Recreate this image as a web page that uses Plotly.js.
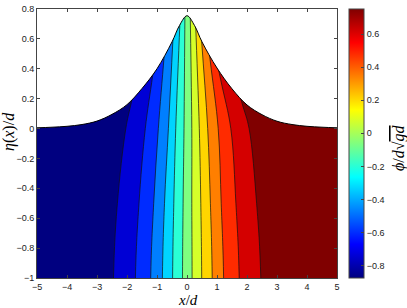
<!DOCTYPE html>
<html><head><meta charset="utf-8">
<script src="https://cdn.plot.ly/plotly-3.0.1.min.js"></script>
<style>html,body{margin:0;padding:0;background:#fff}#chart{width:407px;height:308px}</style>
</head><body><div id="chart"></div>
<script>
// free-surface elevation eta(x)/d
const surfX   = [-5, -4.5, -4, -3.5, -3, -2.5, -2, -1.5, -1, -0.5, -0.25, 0, 0.25, 0.5, 1, 1.5, 2, 2.5, 3, 3.5, 4, 4.5, 5];
const surfEta = [0.005, 0.009, 0.015, 0.027, 0.05, 0.095, 0.16, 0.268, 0.40, 0.58, 0.69, 0.755, 0.69, 0.58, 0.405, 0.266, 0.158, 0.093, 0.049, 0.027, 0.015, 0.009, 0.005];

// contour boundaries of phi: x position at y = -1, -0.5, 0 and where each meets the surface
const rowY        = [-1, -0.5, 0];
const contXBottom = [-2.45, -1.72, -1.21, -0.82, -0.48, -0.15, 0.17, 0.49, 0.84, 1.22, 1.74, 2.46];
const contXMid    = [-2.32, -1.60, -1.11, -0.75, -0.44, -0.13, 0.16, 0.46, 0.78, 1.14, 1.63, 2.32];
const contXZero   = [-2.04, -1.39, -0.955, -0.62, -0.375, -0.10, 0.16, 0.41, 0.69, 1.04, 1.46, 2.07];
const contXSurf   = [-1.84, -1.14, -0.76, -0.47, -0.24, -0.07, 0.11, 0.29, 0.49, 0.77, 1.12, 1.82];
const contYSurf   = [0.19, 0.36, 0.49, 0.59, 0.69, 0.75, 0.745, 0.69, 0.58, 0.46, 0.33, 0.18];

// phi value used for the colour of each filled band (left to right)
const bandPhi = [-0.874, -0.738, -0.603, -0.468, -0.333, -0.197, -0.062, 0.074, 0.209, 0.345, 0.480, 0.616, 0.751];
const phiMin = -0.874, phiMax = 0.751;

const xTicks  = [-5, -4, -3, -2, -1, 0, 1, 2, 3, 4, 5];
const yTicks  = [-1, -0.8, -0.6, -0.4, -0.2, 0, 0.2, 0.4, 0.6, 0.8];
const cbTicks = [-0.8, -0.6, -0.4, -0.2, 0, 0.2, 0.4, 0.6];

// Matlab-like jet colour map
const jet = [[0,[0,0,128]],[0.125,[0,0,255]],[0.375,[0,255,255]],[0.625,[255,255,0]],[0.875,[255,0,0]],[1,[128,0,0]]];
const jetScale = jet.map(s => [s[0], 'rgb(' + s[1].join(',') + ')']);
function jetColor(v) {
  const t = Math.min(1, Math.max(0, (v - phiMin) / (phiMax - phiMin)));
  for (let i = 1; i < jet.length; i++) {
    if (t <= jet[i][0] + 1e-9) {
      const a = jet[i-1], b = jet[i], f = (t - a[0]) / (b[0] - a[0]);
      return 'rgb(' + a[1].map((c, j) => Math.round(c + (b[1][j] - c) * f)).join(',') + ')';
    }
  }
  return 'rgb(128,0,0)';
}

const FAR = 3, XR = 6;
const traces = [];
// band 0: whole field
traces.push({x: [-XR, -XR, XR, XR], y: [-FAR, FAR, FAR, -FAR], mode: 'lines', fill: 'toself',
  fillcolor: jetColor(bandPhi[0]), line: {width: 0}, hoverinfo: 'skip'});
// bands 1..12: region right of each contour boundary
for (let i = 0; i < contXBottom.length; i++) {
  const xs = contXSurf[i], ys = contYSurf[i], x0 = contXZero[i];
  const slope = (xs - x0) / ys;
  const ye = 1.2, xe = xs + slope * (ye - ys);
  traces.push({
    x: [contXBottom[i], contXBottom[i], contXMid[i], contXZero[i], xs, xe, xe, XR, XR],
    y: [-FAR, rowY[0], rowY[1], rowY[2], ys, ye, FAR, FAR, -FAR],
    mode: 'lines', fill: 'toself', fillcolor: jetColor(bandPhi[i+1]),
    line: {shape: 'spline', smoothing: 1, color: '#111', width: 0.7}, hoverinfo: 'skip'
  });
}
// white mask above the free surface
traces.push({x: surfX, y: surfEta, mode: 'lines', line: {width: 0, shape: 'spline'}, hoverinfo: 'skip'});
traces.push({x: [surfX[0], surfX[surfX.length-1]], y: [FAR, FAR], mode: 'lines', fill: 'tonexty',
  fillcolor: '#ffffff', line: {width: 0}, hoverinfo: 'skip'});
// free surface line
traces.push({x: surfX, y: surfEta, mode: 'lines', line: {color: '#000', width: 1, shape: 'spline'}, hoverinfo: 'skip'});
// colour bar carrier
traces.push({x: [0], y: [-5], mode: 'markers', hoverinfo: 'skip',
  marker: {color: [phiMin], cmin: phiMin, cmax: phiMax, colorscale: jetScale, showscale: true, opacity: 0,
    colorbar: {x: 1.04, xanchor: 'left', xpad: 0, y: 0.5, yanchor: 'middle', ypad: 0, len: 1, lenmode: 'fraction',
      thickness: 15, outlinewidth: 1, outlinecolor: '#444', tickvals: cbTicks, ticks: 'inside', ticklen: 3,
      tickcolor: '#444', tickfont: {family: 'Liberation Sans, Arial, sans-serif', size: 9, color: '#222'}}}});

const tickFont = {family: 'Liberation Sans, Arial, sans-serif', size: 9, color: '#222'};
const layout = {
  width: 407, height: 308, showlegend: false,
  margin: {l: 37, r: 70, t: 9, b: 30},
  paper_bgcolor: '#fff', plot_bgcolor: '#fff',
  xaxis: {range: [-5, 5], tickvals: xTicks, ticks: 'inside', ticklen: 3, tickcolor: '#444', mirror: 'ticks',
    showline: true, linecolor: '#444', linewidth: 1, showgrid: false, zeroline: false, tickfont: tickFont},
  yaxis: {range: [-1, 0.8], tickvals: yTicks, ticks: 'inside', ticklen: 3, tickcolor: '#444', mirror: 'ticks',
    showline: true, linecolor: '#444', linewidth: 1, showgrid: false, zeroline: false, tickfont: tickFont},
  annotations: [
    {text: '<i>x</i>/<i>d</i>', xref: 'paper', yref: 'paper', x: (188-37)/300, y: (278-300)/269,
      xanchor: 'center', yanchor: 'middle', showarrow: false,
      font: {family: 'Liberation Serif, serif', size: 15, color: '#000'}},
    {text: '<i>η</i>(<i>x</i>)/<i>d</i>', xref: 'paper', yref: 'paper', x: (9-37)/300, y: (278-132)/269,
      xanchor: 'center', yanchor: 'middle', showarrow: false, textangle: -90,
      font: {family: 'Liberation Serif, serif', size: 16, color: '#000'}},
    {text: '<i>ϕ</i>/<i>d</i>√<span style="text-decoration:overline"><i>gd</i></span>', xref: 'paper', yref: 'paper',
      x: (399-37)/300, y: (278-148)/269, xanchor: 'center', yanchor: 'middle', showarrow: false, textangle: -90,
      font: {family: 'Liberation Serif, serif', size: 16, color: '#000'}}
  ]
};
Plotly.newPlot('chart', traces, layout, {staticPlot: true, displayModeBar: false});
</script>
</body></html>
